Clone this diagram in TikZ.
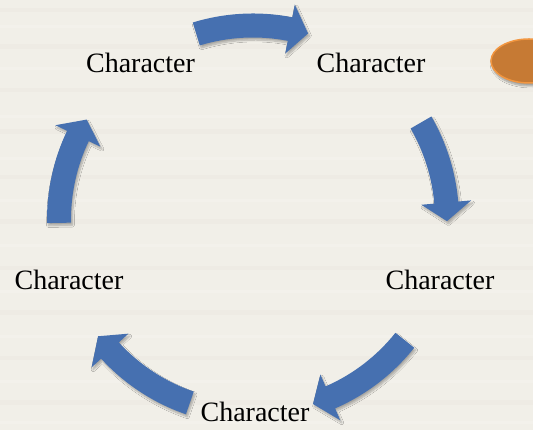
\documentclass[tikz,border=0pt]{standalone}
\usepackage{fontspec}
\setmainfont{Liberation Serif}
\usetikzlibrary{shadows.blur}
\definecolor{bg}{RGB}{241,239,232}
\definecolor{bgdark}{RGB}{233,230,221}
\definecolor{bglight}{RGB}{247,246,241}
\definecolor{arrowblue}{RGB}{70,112,176}
\definecolor{dotfill}{RGB}{198,122,52}
\definecolor{dotedge}{RGB}{242,150,64}
\tikzset{
  lbl/.style={font=\fontsize{28}{32}\selectfont, anchor=base, inner sep=0pt, text=black},
  cycarrow/.style={fill=arrowblue, draw=none,
    blur shadow={shadow xshift=1.5pt, shadow yshift=-2.5pt, shadow blur steps=8, shadow opacity=30}},
  dotstyle/.style={fill=dotfill, draw=dotedge, line width=1.5pt,
    blur shadow={shadow xshift=1pt, shadow yshift=-3pt, shadow blur steps=8, shadow opacity=35}},
}
% #1 tail angle, #2 tip angle (clockwise: #1 > #2)
\newcommand{\cycarr}[2]{%
  \path[cycarrow] (#1:206pt) arc[start angle=#1, end angle={#2+5.5}, radius=206pt]
    -- ({#2+5.5}:219pt) -- (#2:194pt) -- ({#2+5.5}:169pt) -- ({#2+5.5}:182pt)
    arc[start angle={#2+5.5}, end angle=#1, radius=182pt] -- cycle;
}
\begin{document}
\begin{tikzpicture}[x=1pt,y=1pt]
\useasboundingbox (0,0) rectangle (533,430);
\fill[bg] (0,0) rectangle (533,430);
% faint horizontal texture
\foreach \yy/\hh/\cc in {418/4/bgdark, 402/3/bglight, 381/5/bgdark, 360/3/bglight, 338/4/bgdark,
  312/3/bglight, 296/5/bgdark, 270/3/bglight, 251/4/bgdark, 228/3/bglight, 206/5/bgdark,
  183/3/bglight, 160/4/bgdark, 137/3/bglight, 115/5/bgdark, 92/3/bglight, 70/4/bgdark,
  47/3/bglight, 25/5/bgdark, 6/3/bglight}
  {\fill[\cc, opacity=0.35] (0,\yy) rectangle (533,\yy+\hh);}
% orange dot
\draw[dotstyle] (529,369) ellipse [x radius=38, y radius=22];
% arrows around the cycle
\begin{scope}[shift={(253,210.5)}]
  \cycarr{107}{73.5}
  \cycarr{30}{-0.5}
  \cycarr{-38.5}{-72}
  \cycarr{-109}{-143}
  \cycarr{181}{149}
\end{scope}
% labels
\node[lbl] (c1) at (140.5,357) {Character};
\node[lbl] (c2) at (371,357) {Character};
\node[lbl] (c3) at (440,140) {Character};
\node[lbl] (c4) at (255,8) {Character};
\node[lbl] (c5) at (69,140) {Character};
\end{tikzpicture}
\end{document}
